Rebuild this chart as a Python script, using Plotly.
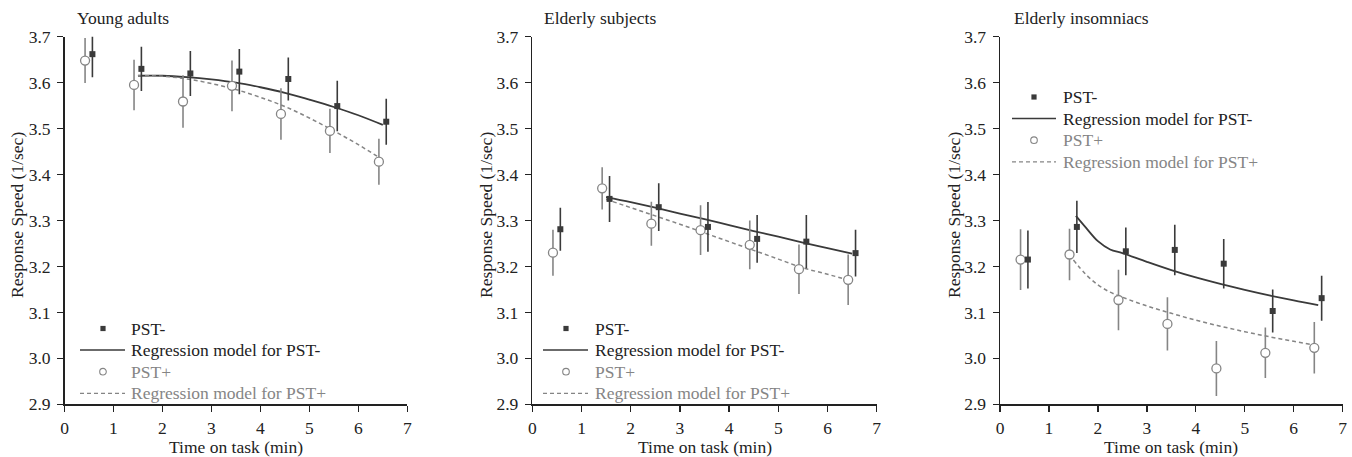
import plotly.graph_objects as go

W, H = 1352, 457
FONT = "Liberation Serif"
FS = 17.5

panel_titles = ["Young adults", "Elderly subjects", "Elderly insomniacs"]
x_ticks = [0, 1, 2, 3, 4, 5, 6, 7]
y_ticks = [2.9, 3.0, 3.1, 3.2, 3.3, 3.4, 3.5, 3.6, 3.7]
y_tick_labels = ["2.9", "3.0", "3.1", "3.2", "3.3", "3.4", "3.5", "3.6", "3.7"]
legend_labels = ["PST-", "Regression model for PST-", "PST+", "Regression model for PST+"]

time_minus = [0.57, 1.57, 2.57, 3.57, 4.57, 5.57, 6.57]
time_plus = [0.42, 1.42, 2.42, 3.42, 4.42, 5.42, 6.42]

# Young adults
ya_minus = [3.662, 3.630, 3.620, 3.624, 3.608, 3.549, 3.515]
ya_minus_err = [0.050, 0.048, 0.049, 0.049, 0.047, 0.055, 0.050]
ya_plus = [3.648, 3.595, 3.559, 3.593, 3.532, 3.495, 3.428]
ya_plus_err = [0.049, 0.055, 0.057, 0.055, 0.056, 0.048, 0.050]
ya_fit_t = [1.5, 2.0, 2.5, 3.0, 3.5, 4.0, 4.5, 5.0, 5.5, 6.0, 6.5]
ya_fit_minus = [3.615, 3.615, 3.612, 3.607, 3.600, 3.590, 3.578, 3.563, 3.547, 3.529, 3.508]
ya_fit_plus = [3.615, 3.614, 3.608, 3.598, 3.585, 3.568, 3.548, 3.523, 3.495, 3.465, 3.432]

# Elderly subjects
es_minus = [3.281, 3.347, 3.329, 3.286, 3.260, 3.254, 3.229]
es_minus_err = [0.047, 0.050, 0.052, 0.054, 0.052, 0.058, 0.051]
es_plus = [3.230, 3.370, 3.293, 3.279, 3.247, 3.194, 3.171]
es_plus_err = [0.050, 0.046, 0.048, 0.054, 0.053, 0.054, 0.055]
es_fit_t = [1.5, 2.0, 2.5, 3.0, 3.5, 4.0, 4.5, 5.0, 5.5, 6.0, 6.5]
es_fit_minus = [3.351, 3.340, 3.328, 3.315, 3.303, 3.290, 3.277, 3.265, 3.252, 3.240, 3.228]
es_fit_plus = [3.346, 3.328, 3.310, 3.292, 3.273, 3.254, 3.235, 3.216, 3.197, 3.183, 3.168]

# Elderly insomniacs
ei_minus = [3.215, 3.286, 3.233, 3.236, 3.206, 3.103, 3.131]
ei_minus_err = [0.063, 0.057, 0.052, 0.055, 0.054, 0.047, 0.049]
ei_plus = [3.215, 3.226, 3.127, 3.075, 2.978, 3.012, 3.023]
ei_plus_err = [0.066, 0.056, 0.066, 0.058, 0.060, 0.055, 0.056]
ei_fit_minus_t = [1.55, 1.75, 2.0, 2.25, 2.5, 3.0, 3.5, 4.0, 4.5, 5.0, 5.5, 6.0, 6.5]
ei_fit_minus = [3.310, 3.285, 3.255, 3.237, 3.229, 3.210, 3.192, 3.176, 3.162, 3.149, 3.137, 3.126, 3.116]
ei_fit_plus_t = [1.5, 1.75, 2.0, 2.25, 2.5, 3.0, 3.5, 4.0, 4.5, 5.0, 5.5, 6.0, 6.5]
ei_fit_plus = [3.214, 3.183, 3.160, 3.144, 3.133, 3.114, 3.098, 3.083, 3.070, 3.058, 3.047, 3.037, 3.027]

panels = [
    (ya_minus, ya_minus_err, ya_plus, ya_plus_err, ya_fit_t, ya_fit_minus, ya_fit_t, ya_fit_plus),
    (es_minus, es_minus_err, es_plus, es_plus_err, es_fit_t, es_fit_minus, es_fit_t, es_fit_plus),
    (ei_minus, ei_minus_err, ei_plus, ei_plus_err, ei_fit_minus_t, ei_fit_minus, ei_fit_plus_t, ei_fit_plus),
]

DARK = "#3a3a3a"
GRAY = "#858585"
TXT = "#222222"

# pixel layout of the three plot areas
x_px = [(64.5, 407.3), (532.3, 876.7), (1000.0, 1342.7)]
y_top_px, y_bot_px = 36.7, 404.3
# legend: (line start, symbol centre, line end, text start, first row y)
legend_px = [(80, 103, 125, 129, 328.5), (543, 566, 588, 592.5, 328.5), (1012, 1034, 1056, 1061, 97)]
ROW = 21.6
title_px = [75, 541.7, 1011.7]
ytitle_px = [17, 486, 954]

fig = go.Figure()

for i, (m, me, p, pe, ft_m, fm, ft_p, fp) in enumerate(panels):
    xa = "x" if i == 0 else f"x{i+1}"
    ya = "y" if i == 0 else f"y{i+1}"
    fig.add_trace(go.Scatter(
        x=ft_m, y=fm, mode="lines", name=legend_labels[1],
        xaxis=xa, yaxis=ya, line=dict(color=DARK, width=1.8, shape="spline"),
    ))
    fig.add_trace(go.Scatter(
        x=ft_p, y=fp, mode="lines", name=legend_labels[3],
        xaxis=xa, yaxis=ya, line=dict(color=GRAY, width=1.5, dash="4px,3px", shape="spline"),
    ))
    fig.add_trace(go.Scatter(
        x=time_plus, y=p, mode="markers", name=legend_labels[2],
        xaxis=xa, yaxis=ya,
        marker=dict(symbol="circle", size=9, color="white", line=dict(color=GRAY, width=1.3)),
        error_y=dict(type="data", array=pe, visible=True, color=GRAY, thickness=1.6, width=0),
        cliponaxis=False,
    ))
    fig.add_trace(go.Scatter(
        x=time_minus, y=m, mode="markers", name=legend_labels[0],
        xaxis=xa, yaxis=ya,
        marker=dict(symbol="square", size=6, color=DARK),
        error_y=dict(type="data", array=me, visible=True, color=DARK, thickness=1.6, width=0),
        cliponaxis=False,
    ))

axis_common = dict(
    showgrid=False, zeroline=False, showline=True, linecolor="#222", linewidth=1.5,
    ticks="outside", ticklen=6, tickwidth=1.3, tickcolor="#222", automargin=False,
    tickfont=dict(family=FONT, size=FS, color=TXT), mirror=False,
    ticklabeloverflow="allow",
)

layout = dict(
    template="none",
    width=W, height=H, margin=dict(l=0, r=0, t=0, b=0, autoexpand=False),
    paper_bgcolor="white", plot_bgcolor="white",
    font=dict(family=FONT, size=FS, color=TXT),
    showlegend=False,
)

annotations = []
shapes = []
for i in range(3):
    sx = "" if i == 0 else str(i + 1)
    x0, x1 = x_px[i]
    layout["xaxis" + sx] = dict(
        axis_common, domain=[x0 / W, x1 / W], range=[0, 7], tickvals=x_ticks,
        anchor="y" + sx, ticklabelstandoff=1,
    )
    layout["yaxis" + sx] = dict(
        axis_common, domain=[1 - y_bot_px / H, 1 - y_top_px / H], range=[2.9, 3.7],
        tickvals=y_ticks, ticktext=y_tick_labels, anchor="x" + sx, ticklabelstandoff=3,
    )
    annotations.append(dict(
        text=panel_titles[i], x=title_px[i] / W, y=1 - 18 / H, xref="paper", yref="paper",
        xanchor="left", yanchor="middle", showarrow=False,
        font=dict(family=FONT, size=FS, color=TXT),
    ))
    annotations.append(dict(
        text="Response Speed (1/sec)", x=ytitle_px[i] / W, y=1 - 215 / H, xref="paper", yref="paper",
        xanchor="center", yanchor="middle", showarrow=False, textangle=-90,
        font=dict(family=FONT, size=FS, color=TXT),
    ))
    annotations.append(dict(
        text="Time on task (min)", x=(x0 + x1) / 2 / W, y=1 - 446.5 / H, xref="paper", yref="paper",
        xanchor="center", yanchor="middle", showarrow=False,
        font=dict(family=FONT, size=FS, color=TXT),
    ))

    # legend (keys drawn as shapes, labels as text)
    lx0, lsym, lx1, ltx, ly0 = legend_px[i]
    rows = [ly0 + k * ROW for k in range(4)]
    colors = [TXT, TXT, GRAY, GRAY]
    for k, lab in enumerate(legend_labels):
        annotations.append(dict(
            text=lab, x=ltx / W, y=1 - rows[k] / H, xref="paper", yref="paper",
            xanchor="left", yanchor="middle", showarrow=False,
            font=dict(family=FONT, size=FS, color=colors[k]),
        ))
    # square key
    shapes.append(dict(type="rect", xref="paper", yref="paper",
                       x0=(lsym - 2.6) / W, x1=(lsym + 2.6) / W,
                       y0=1 - (rows[0] + 2.6) / H, y1=1 - (rows[0] - 2.6) / H,
                       fillcolor=DARK, line=dict(width=0)))
    # solid line key
    shapes.append(dict(type="line", xref="paper", yref="paper",
                       x0=lx0 / W, x1=lx1 / W, y0=1 - rows[1] / H, y1=1 - rows[1] / H,
                       line=dict(color=DARK, width=1.5)))
    # circle key
    shapes.append(dict(type="circle", xref="paper", yref="paper",
                       x0=(lsym - 3.3) / W, x1=(lsym + 3.3) / W,
                       y0=1 - (rows[2] + 3.3) / H, y1=1 - (rows[2] - 3.3) / H,
                       fillcolor="white", line=dict(color=GRAY, width=1.1)))
    # dashed line key
    shapes.append(dict(type="line", xref="paper", yref="paper",
                       x0=lx0 / W, x1=lx1 / W, y0=1 - rows[3] / H, y1=1 - rows[3] / H,
                       line=dict(color=GRAY, width=1.3, dash="4px,3px")))

layout["annotations"] = annotations
layout["shapes"] = shapes
fig.update_layout(**layout)
fig.write_html(
    "out.html",
    config={"displayModeBar": False, "staticPlot": True},
    post_script="document.body.style.margin='0';document.body.style.padding='0';",
)
